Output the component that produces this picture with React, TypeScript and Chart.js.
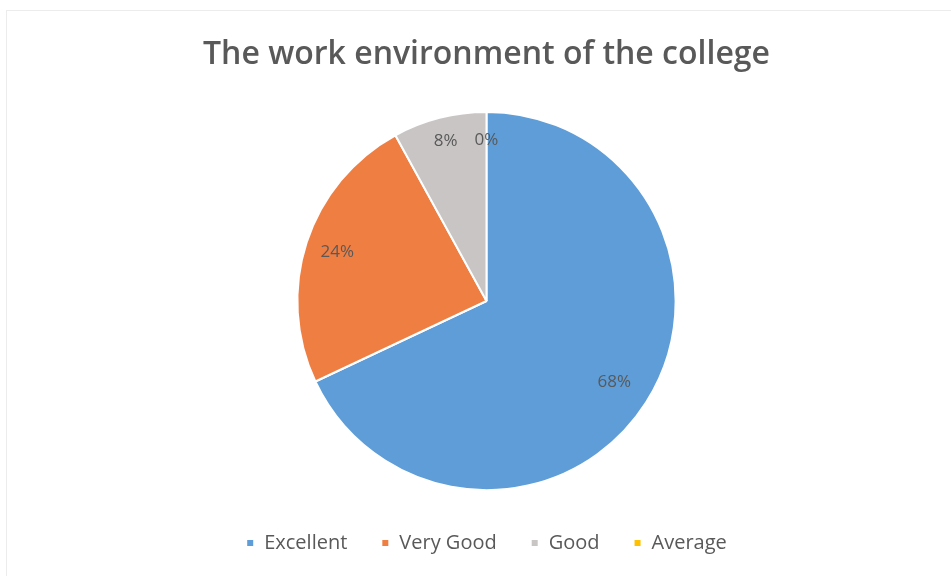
import React, { useEffect, useRef } from "react";
import { Chart, registerables } from "chart.js";

Chart.register(...registerables);

const categories = ["Excellent", "Very Good", "Good", "Average"];
const percentValues = [68, 24, 8, 0];
const sliceColors = ["#5E9DD7", "#EF7E43", "#C9C5C5", "#FFC000"];
const chartTitle = "The work environment of the college";
const labelRadiusFactors = [0.8, 0.83, 0.87, 0.85];

const frame = {
  id: "frame",
  beforeDraw(chart: any) {
    const { ctx, width, height } = chart;
    ctx.save();
    ctx.fillStyle = "#ffffff";
    ctx.fillRect(0, 0, width, height);
    ctx.strokeStyle = "#ececec";
    ctx.lineWidth = 1;
    ctx.strokeRect(6.5, 10.5, width - 5, height);
    ctx.restore();
  },
};

const sliceLabels = {
  id: "sliceLabels",
  afterDatasetsDraw(chart: any) {
    const { ctx } = chart;
    const meta = chart.getDatasetMeta(0);
    ctx.save();
    ctx.font = "17px 'Open Sans'";
    ctx.fillStyle = "#595959";
    ctx.textAlign = "center";
    ctx.textBaseline = "middle";
    meta.data.forEach((arc: any, i: number) => {
      const p = arc.getProps(["x", "y", "startAngle", "endAngle", "outerRadius"], true);
      const mid = (p.startAngle + p.endAngle) / 2;
      const r = p.outerRadius * labelRadiusFactors[i];
      const x = p.x + Math.cos(mid) * r;
      const y = p.y + Math.sin(mid) * r;
      ctx.fillText(percentValues[i] + "%", x, y);
    });
    ctx.restore();
  },
};

export default function App() {
  const ref = useRef<HTMLCanvasElement | null>(null);
  useEffect(() => {
    document.body.style.margin = "0";
    if (!ref.current) return;
    const chart = new Chart(ref.current, {
      type: "pie",
      data: {
        labels: categories,
        datasets: [
          {
            data: percentValues,
            backgroundColor: sliceColors,
            borderColor: "#ffffff",
            borderWidth: 2,
            radius: "96%",
          },
        ],
      },
      options: {
        animation: false,
        responsive: false,
        maintainAspectRatio: false,
        layout: { padding: { left: 22, right: 0, top: 0, bottom: 13 } },
        plugins: {
          title: {
            display: true,
            text: chartTitle,
            color: "#595959",
            font: { family: "'Open Sans'", size: 32, weight: "600", lineHeight: 1.2 },
            padding: { top: 35.8, bottom: 28.8 },
          },
          legend: {
            position: "bottom",
            labels: {
              color: "#595959",
              font: { family: "'Open Sans'", size: 20, weight: "500" },
              boxWidth: 8,
              boxHeight: 8,
              padding: 34,
            },
          },
          tooltip: { enabled: false },
        },
      },
      plugins: [frame, sliceLabels],
    });
    return () => chart.destroy();
  }, []);
  return (
    <div style={{ width: 951, height: 576 }}>
      <canvas ref={ref} width={951} height={576} style={{ display: "block" }} />
    </div>
  );
}
